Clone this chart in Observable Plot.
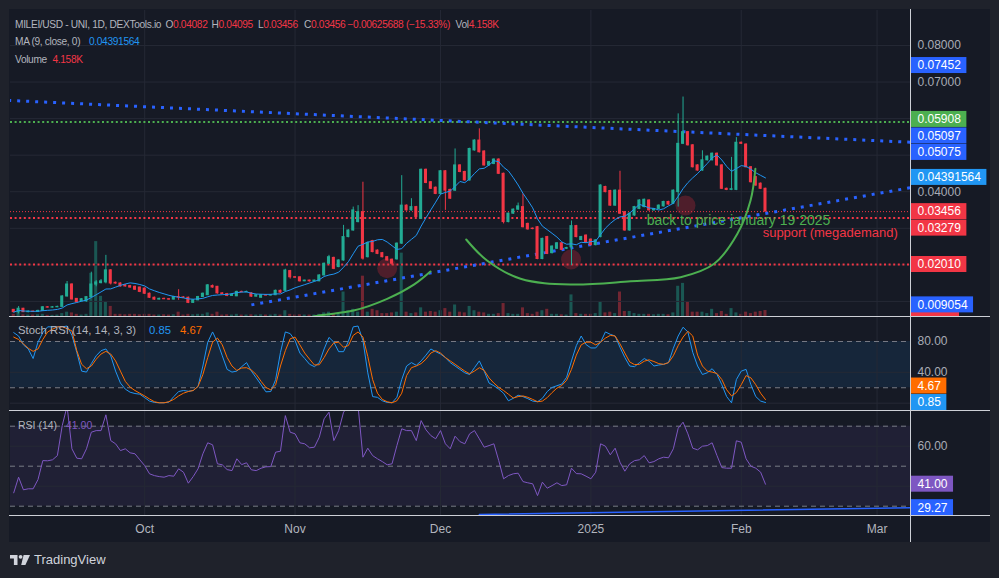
<!DOCTYPE html>
<html>
<head>
<meta charset="utf-8">
<script src="https://cdn.jsdelivr.net/npm/d3@7"></script>
<script src="https://cdn.jsdelivr.net/npm/@observablehq/plot@0.6"></script>
<style>
  html, body { margin: 0; padding: 0; background: #1f222b; }
  #root { position: relative; width: 999px; height: 578px; overflow: hidden; background: #1f222b; font-family: 'Liberation Sans', Arial, sans-serif; }
  #panel { position: absolute; left: 9px; top: 9px; width: 981px; height: 533px; background: #161a25; }
  .sep { position: absolute; background: #cdd0d6; }
  .lg { position: absolute; white-space: nowrap; color: #b2b5be; line-height: 1.2; font-size: 10.2px; letter-spacing: -0.35px; }
  #root svg { position: absolute; left: 0; }
</style>
</head>
<body>
<div id="root"><div id="panel"></div></div>
<script>
// ---------------- DATA ----------------
const startDay = "2024-09-04"; // first daily candle
const open = [
.0077,.00706,.0080,.00706,.0072,.0071,.0074,.0084,.0083,.0084,
.0085,.01135,.01463,.0107,.0100,.0100,.01117,.0146,.0150,.0152,
.0185,.0151,.0149,.0144,.0142,.0140,.0138,.0135,.0121,.0110,
.0105,.0107,.0106,.0105,.0112,.0111,.0110,.0096,.0103,.0112,
.0117,.0142,.0140,.0122,.0120,.0115,.0114,.0126,.0125,.0122,
.0113,.0110,.0117,.0116,.0117,.0129,.0129,.0183,.0166,.0166,
.0155,.0157,.0155,.0155,.0171,.0203,.0219,.0194,.0212,.0276,
.0294,.0317,.0344,.0221,.0265,.0239,.0232,.0221,.0214,.0215,
.0258,.0362,.0349,.0358,.0326,.0460,.0426,.0411,.0394,.0456,
.0405,.0403,.0472,.0454,.0431,.0513,.0540,.0510,.0472,.0476,
.0488,.0449,.0317,.0340,.0351,.0358,.0312,.0299,.0303,.0216,
.0276,.0232,.0244,.0259,.0244,.0248,.0306,.0268,.0280,.0269,
.0254,.0276,.0413,.0402,.0362,.0403,.0344,.0294,.0335,.0353,
.0358,.0376,.0349,.0353,.0360,.0372,.0367,.0399,.0531,.0563,
.0527,.0472,.0458,.0486,.0486,.0504,.0472,.0408,.0405,.0405,
.0534,.0529,.0467,.0440,.0422,.04082];
const high = [
.0078,.0086,.0081,.0074,.0074,.0076,.0086,.0086,.0086,.0087,
.0116,.01545,.0148,.0108,.0108,.0113,.0180,.0157,.0160,.0226,
.0187,.0153,.0151,.0146,.0144,.0142,.0139,.0137,.0123,.0112,
.0109,.0109,.0108,.0114,.0132,.0113,.0112,.0105,.0114,.0123,
.0146,.0145,.0141,.0124,.0122,.0120,.0128,.0128,.0128,.0124,
.0119,.0119,.0119,.0119,.0131,.0131,.0188,.0185,.0168,.0167,
.0158,.0158,.0158,.0173,.0205,.0226,.0221,.0214,.0308,.0296,
.0358,.0362,.0426,.0262,.0267,.0241,.0234,.0223,.0216,.0260,
.0444,.0364,.0381,.0360,.0462,.0462,.0428,.0413,.0458,.0458,
.0407,.0517,.0474,.0456,.0519,.0542,.0572,.0512,.0483,.0490,
.0490,.0451,.0342,.0353,.0369,.0394,.0314,.0301,.0305,.0273,
.0278,.0252,.0261,.0261,.0248,.0320,.0308,.0278,.0282,.0271,
.0269,.0419,.0415,.0404,.0405,.0456,.0346,.0342,.0360,.0378,
.0380,.0378,.0354,.0364,.0374,.0374,.0405,.0613,.0659,.0565,
.0529,.0474,.0512,.0498,.0506,.0506,.0474,.0410,.0494,.0548,
.0536,.0531,.0469,.0442,.0424,.04095];
const low = [
.0070,.0066,.0070,.0069,.0070,.0070,.0073,.0082,.0082,.0083,
.0084,.0112,.0104,.0096,.0099,.0098,.0110,.0140,.0148,.0148,
.0145,.0147,.0139,.0139,.0136,.0130,.0124,.0119,.0108,.0103,
.0104,.0105,.0103,.0104,.0103,.0108,.0094,.0095,.0102,.0111,
.0116,.0136,.0120,.0119,.0113,.0114,.0113,.0124,.0124,.0111,
.0112,.0109,.0115,.0115,.0116,.0122,.0127,.0161,.0163,.0153,
.0154,.0153,.0154,.0154,.0170,.0201,.0187,.0192,.0210,.0274,
.0292,.0315,.0213,.0219,.0233,.0228,.0219,.0210,.0198,.0213,
.0256,.0347,.0347,.0329,.0324,.0422,.0406,.0392,.0392,.0349,
.0379,.0401,.0452,.0429,.0429,.0511,.0506,.0470,.0470,.0474,
.0447,.0312,.0315,.0338,.0349,.0301,.0295,.0296,.0214,.0214,
.0228,.0230,.0242,.0239,.0242,.0198,.0274,.0266,.0260,.0252,
.0252,.0274,.0397,.0360,.0360,.0338,.0292,.0292,.0333,.0351,
.0356,.0347,.0347,.0351,.0358,.0363,.0365,.0358,.0529,.0525,
.0465,.0456,.0456,.0484,.0484,.0470,.0406,.0403,.0403,.0403,
.0529,.0465,.0424,.0415,.0406,.03456];
const close = [
.00706,.0080,.00706,.0072,.0071,.0074,.0084,.0083,.0084,.0085,
.01135,.01463,.01053,.0098,.0106,.01117,.01463,.0152,.0155,.0185,
.0149,.0149,.0141,.0141,.0138,.0132,.0126,.0121,.0110,.0105,
.0107,.0106,.0105,.0112,.0111,.0110,.0096,.0103,.0112,.0121,
.0144,.0138,.0122,.0120,.0115,.0118,.0126,.0125,.0126,.0113,
.0117,.0117,.0116,.0117,.0129,.0124,.01846,.0166,.0165,.0155,
.0157,.0155,.0157,.0171,.0203,.0221,.0189,.0212,.0276,.0294,
.0349,.0344,.0217,.0260,.0235,.0230,.0221,.0212,.0203,.0258,
.0362,.0349,.0358,.0331,.0460,.0424,.0408,.0394,.0456,.0403,
.0381,.0472,.0454,.0431,.0517,.0540,.0508,.0472,.0481,.0488,
.0449,.0317,.0340,.0351,.0360,.0303,.0297,.0298,.0216,.0271,
.0230,.0250,.0259,.0241,.0246,.0306,.0276,.0276,.0262,.0254,
.0267,.0417,.0399,.0362,.0403,.0340,.0294,.0340,.0358,.0376,
.0378,.0349,.0352,.0362,.0372,.0365,.0403,.0531,.0563,.0527,
.0467,.0458,.0486,.0496,.0504,.0472,.0408,.0405,.0407,.0534,
.0531,.0467,.0426,.0417,.0408,.03456];
// volume in thousands
const volume = [
1.5,3.5,1.2,1,1,1.2,1.5,0.8,0.8,1,
2,3,2.5,1.5,1,1.5,30,52,14,10,
7,1.5,1.5,1.2,1.5,1.5,1.2,1.5,1.5,1,
1,1.2,1,1.2,3,1,1.5,1.2,1.5,1.5,
2.5,1.5,3,1,1.2,1,1.5,1,1,1.2,
1,1.2,1,1,1.5,1,4,1.5,1,1.2,
1,1,1,1.5,2.5,3,2,1.5,17,4,
5,3,28,3,5,4,2,2,2.5,3,
44,3,2,2.5,6,3,3.5,3,4,5.5,
3,8,3,2.5,7,4,3,2.5,1.5,1.5,
2,9,2,1.5,1.5,6,2,1.5,3,4,
5,1.5,1.5,1.2,1,15,2,1.5,1.5,1.5,
2,10,2.5,3,2,17,3.5,3.5,2,1.5,
1.5,1.5,1.2,1.5,1.5,1.2,2.5,21,23,10,
3,3,3,2,5,2,3.5,1.5,5.5,2.5,
1.5,3,2,3,3.5,4.158];
const stochK = [
91.5,87.1,75.6,70.3,57.9,79.1,91.5,99,99,99,
99,100,87.9,66,41.6,40.3,51.3,61.5,68.1,70.3,
61.5,41.6,26.1,18.2,14.2,12.5,11.6,7.2,2.7,1.0,
0.5,0.5,1.4,8.5,15.1,16.4,15.5,16.4,21.7,48.2,
79.1,92.4,79.1,61.5,43.8,40.3,41.6,47.3,52.6,41.6,
32.8,23.9,14.7,15.1,30.6,65.9,92.4,90.2,81.3,65,
57.9,50.4,47.3,52.6,70.3,85.3,79.1,66.8,66.8,80,
99,100,81.3,39.4,8.5,7.6,3.1,1.0,0.5,7.6,
30.6,48.2,52.6,49.1,54.8,62.3,70.3,66.8,63.7,59.2,
52.6,48.2,43.8,39.4,37.2,46.0,54.8,41.6,26.1,22.6,
18.2,12.9,3.1,6.3,10.3,8.5,5.8,2.7,1.9,6.3,
15.1,20.4,22.6,24.8,33.6,54.8,74.7,87.1,76,71.6,
71.6,79.1,92.4,89.3,87.1,72.5,59.2,48.2,47.3,52.6,
57.9,54.4,48.2,49.5,50.4,52.6,71.2,87.1,98.5,92.4,
65.9,48.2,37.2,39.4,44.7,37.2,23.9,8.5,0.5,30.6,
41.6,43.8,23.9,8.5,2.7,0.85];
const stochD = [
85.7,82.6,76.9,71.2,67.2,70.3,82.6,92.4,95.9,99,
99,96.8,93.7,68.1,50.4,44.7,48.2,57,63.7,67.2,
63.7,54.8,41.6,28.3,20.8,16.4,12.9,9.4,5.4,1.9,
0.5,0.5,1.9,4.9,9.4,12.9,15.1,16.4,21.7,37.2,
59.2,79.1,84.4,75.6,59.2,48.2,42.5,45.6,46.0,42.9,
37.2,28.3,20.4,17.3,23.9,48.2,68.1,83.5,85.7,75.6,
65,57,49.5,49.9,59.2,70.3,78.2,79.1,72.5,74.7,
87.9,92.4,85.7,60.6,30.6,12.9,4.9,1.9,0.5,3.1,
12.9,35.8,46,48.2,51.3,57,65,68.1,65,59.2,
54.8,50.4,46,41.6,38.1,41.6,46,42.5,32.8,26.1,
20.4,16.4,11.6,6.7,8.5,9.4,7.6,4.9,1.9,2.7,
7.2,13.8,19.5,23.0,29.7,43.8,62.3,75.6,79.1,79.1,
75.6,79.1,84.4,87.9,87.1,76.9,65,53.5,50,50.4,
54.4,56.2,54,51.3,50.4,52.6,61.5,74.7,85.7,93.2,
87.1,62.3,48.2,41.6,40.3,38.5,30.6,17.3,9.4,13.8,
23.9,35.8,32.8,23.9,12.9,4.67];
const rsi = [
36.7,44.5,38.2,38.7,38.7,43.3,52.8,52.7,53.2,55.3,
70.3,80,58.7,54,53.7,58.7,67,67.8,67.8,75.7,
62.8,61.2,57.8,58.7,56.7,56.2,53.2,50.3,46.2,45.3,
44.8,44.5,45.3,45,48.7,47,41.5,44.8,48.7,56.2,
61.7,60.7,51.2,50.7,48.3,47.8,53.7,50.8,51.7,48.2,
47.8,49,49.7,49.8,57,57.5,75.3,67,66.2,61.7,
61.2,59.2,59.5,64.5,73.7,77,62.8,67.8,77,80,
82,80,54.5,59,55.3,53.7,52.3,50.7,51.2,60.3,
68.7,67.8,67.8,62.8,72.8,68.2,65.3,63.7,67.8,61.2,
58.7,65,62.3,61.2,66.2,67.8,63.7,59.5,60.3,61.2,
52.8,43.7,45.3,46.2,46.5,42.3,41.7,41.2,35.3,42,
39,40.3,41.7,40.3,40.7,49,46.3,46.2,45,43.7,
47,61.2,60,55.7,59,52,47.5,51.2,52.8,53.2,
55.3,51.7,52.3,53.7,54.5,54.2,58.7,69,72,66.2,
59,58.2,60,60.3,61.7,55.3,49.3,49,49,62.7,
62,53.7,50,49,47,41];

const monthTicks = ["2024-10-01","2024-11-01","2024-12-01","2025-01-01","2025-02-01","2025-03-01"];
const monthLabels = ["Oct","Nov","Dec","2025","Feb","Mar"];
const priceTicks = [0.08, 0.07, 0.04];
const priceGrid = [0.01,0.02,0.03,0.04,0.05,0.06,0.07,0.08];
const stochTicks = [80, 40];
const stochGrid = [0, 40];
const stochBands = [20, 80];
const rsiTicks = [60];
const rsiGrid = [40, 60];
const rsiBands = [30, 50, 70];

const resistanceLevels = [0.05908];
const supportLevels = [0.03279, 0.02010];
const lastClose = [0.03456];

const trendStartDates = ["2024-09-01", "2024-10-23"];
const trendStartValues = [0.0651, 0.009054];
const trendEndDates = ["2025-03-10", "2025-03-10"];
const trendEndValues = [0.0534, 0.0416];

const arcADates = ["2024-11-01","2024-11-06T05:00Z","2024-11-13T02:00Z","2024-11-20","2024-11-25T12:00Z","2024-11-28T22:00Z"];
const arcAValues = [0.0048, 0.0062, 0.0075, 0.0107, 0.0146, 0.0182];
const arcBDates = ["2024-12-06T07:00Z","2024-12-10T14:00Z","2024-12-17T12:00Z","2024-12-27T19:00Z","2025-01-09T05:00Z","2025-01-19T12:00Z","2025-01-26T10:00Z","2025-01-31T05:00Z","2025-02-02T22:00Z","2025-02-03T22:00Z"];
const arcBValues = [0.02694, 0.02119, 0.01619, 0.01463, 0.0155, 0.01663, 0.02029, 0.0285, 0.0376, 0.04627];

const markerDates = ["2024-11-20", "2024-12-27T22:00Z", "2025-01-20T12:00Z"];
const markerValues = [0.01909, 0.02147, 0.03624];

const noteTexts = ["back to price january 19 2025", "support (megademand)"];
const noteDates = ["2025-01-12T12:00Z", "2025-02-05T10:00Z"];
const noteValues = [0.03213, 0.02866];

const rsiTrendDates = ["2024-12-09", "2025-03-10"];
const rsiTrendValues = [25.85, 29.35];

// axis value labels (listed in the order the axis stacks them)
const priceLabelValues = [0.07452, 0.05075, 0.05097, 0.05908, 0.04391564, 0.03456, 0.03279, 0.02010, 0.009054];
const priceLabelTexts = ["0.07452","0.05075","0.05097","0.05908","0.04391564","0.03456","0.03279","0.02010","0.009054"];
const priceLabelKinds = ["trend","trend","trend","level","ma","close","support","support","trend"];
const stochLabelValues = [0.85, 4.67];
const stochLabelTexts = ["0.85", "4.67"];
const stochLabelKinds = ["k", "d"];
const rsiLabelValues = [41.00, 29.27];
const rsiLabelTexts = ["41.00", "29.27"];
const rsiLabelKinds = ["rsi", "trend"];
const volumeLabelValues = [4.158];
const volumeLabelKinds = ["close"];

// ---------------- STYLE / LAYOUT ----------------
const UP = "#22ab94", DOWN = "#f23645";
const kindColor = {trend: "#2962ff", level: "#4caf50", ma: "#2196f3", close: "#f23645", support: "#f23645",
                   k: "#2196f3", d: "#ff6d00", rsi: "#7e57c2"};
const GRID = "#252935";
const W = 999, ML = 10, MR = 89, FW = W - ML - MR;
const FONT = "'Liberation Sans', Arial, sans-serif";
const xDomain = [new Date("2024-09-03T08:00Z"), new Date("2025-03-07T21:36Z")];
const priceDomain = [0.005876, 0.08957];
const volumeDomain = [0, 212.5];
const stochDomain = [-9.5, 112.4];
const rsiDomain = [25.35, 77.85];

const DAY = 864e5;
const t0 = Date.parse(startDay);
const candles = close.map((c, i) => ({
  date: new Date(t0 + i * DAY), open: open[i], high: high[i], low: low[i], close: c,
  volume: volume[i], k: stochK[i], d: stochD[i], rsi: rsi[i],
  color: c >= open[i] ? UP : DOWN
}));
const months = monthTicks.map((d, i) => ({date: new Date(d), label: monthLabels[i]}));
const trends = trendStartDates.map((d, i) => ({x1: new Date(d), y1: trendStartValues[i], x2: new Date(trendEndDates[i]), y2: trendEndValues[i]}));
const arcA = arcADates.map((d, i) => ({date: new Date(d), value: arcAValues[i]}));
const arcB = arcBDates.map((d, i) => ({date: new Date(d), value: arcBValues[i]}));
const markers = markerDates.map((d, i) => ({date: new Date(d), value: markerValues[i]}));
const notes = noteTexts.map((t, i) => ({text: t, date: new Date(noteDates[i]), value: noteValues[i]}));
const rsiTrend = rsiTrendDates.map((d, i) => ({date: new Date(d), value: rsiTrendValues[i]}));

const ctx = document.createElement("canvas").getContext("2d");
ctx.font = "12px " + FONT;
function textW(s) { return ctx.measureText(s).width; }

// place axis value labels, pushing apart ones that would overlap
function placeLabels(values, texts, kinds, domain, h) {
  const s = d3.scaleLinear(domain, [h, 0]);
  const placed = [];
  values.forEach((v, i) => {
    let py = s(v);
    for (const p of placed) {
      if (Math.abs(py - p.py) < 16.5) py = py <= p.py ? p.py - 16.5 : p.py + 16.5;
    }
    placed.push({value: v, text: texts ? texts[i] : "", color: kindColor[kinds[i]], py, yd: s.invert(py)});
  });
  return placed;
}
function labelMarks(placed, withText = true) {
  return placed.flatMap(l => [
    Plot.rect([l], {y1: "yd", y2: "yd", insetTop: -8, insetBottom: -8, insetLeft: FW,
                    insetRight: -(withText ? textW(l.text) + 13 : 49), fill: l.color}),
    ...(withText ? [Plot.text([l], {y: "yd", text: "text", frameAnchor: "right", dx: 7, textAnchor: "start",
                    fill: "#ffffff", fontSize: 12})] : [])
  ]);
}
function tickMarks(ticks, fmt) {
  return Plot.text(ticks, {y: d => d, text: d => d3.format(fmt)(d), frameAnchor: "right", dx: 7,
                           textAnchor: "start", fill: "#a9acb5", fontSize: 12});
}
function pane(height, yDomain, marks) {
  const svg = Plot.plot({
    width: W, height, marginLeft: ML, marginRight: MR, marginTop: 0, marginBottom: 0,
    x: {type: "utc", domain: xDomain, axis: null},
    y: {domain: yDomain, axis: null},
    style: {background: "transparent", fontFamily: FONT, fontSize: "12px", color: "#b2b5be"},
    marks
  });
  svg.style.overflow = "hidden";
  svg.style.maxWidth = "none";
  return svg;
}
const root = document.getElementById("root");
function put(svg, top) { svg.style.top = top + "px"; root.appendChild(svg); }

const bodyX1 = d => new Date(+d.date - DAY / 2);
const bodyX2 = d => new Date(+d.date + DAY / 2);

// ---------------- VOLUME (overlay on price pane) ----------------
put(pane(306, volumeDomain, [
  Plot.rect(candles, {x1: bodyX1, x2: bodyX2, y1: 0, y2: "volume", fill: "color", fillOpacity: 0.42,
                      insetLeft: 0.9, insetRight: 0.9}),
  ...labelMarks(placeLabels(volumeLabelValues, null, volumeLabelKinds, volumeDomain, 306), false)
]), 10);

// ---------------- PRICE ----------------
put(pane(306, priceDomain, [
  Plot.ruleX(months, {x: "date", stroke: GRID}),
  Plot.ruleY(priceGrid, {stroke: GRID}),
  Plot.ruleY(resistanceLevels, {stroke: "#4caf50", strokeWidth: 2, strokeDasharray: "2,2.6"}),
  Plot.ruleY(supportLevels, {stroke: "#f23645", strokeWidth: 2, strokeDasharray: "2,2.6"}),
  Plot.ruleY(lastClose, {stroke: "#f23645", strokeWidth: 1, strokeDasharray: "1,2"}),
  Plot.link(trends, {x1: "x1", y1: "y1", x2: "x2", y2: "y2", stroke: "#2962ff", strokeWidth: 3,
                     strokeDasharray: "3,6", clip: true}),
  Plot.dot(markers, {x: "date", y: "value", r: 10, fill: "#c62838", fillOpacity: 0.32, stroke: "none"}),
  Plot.ruleX(candles, {x: "date", y1: "low", y2: "high", stroke: "color", strokeWidth: 1}),
  Plot.rect(candles, {x1: bodyX1, x2: bodyX2, y1: "open", y2: "close", fill: "color",
                      insetLeft: 0.9, insetRight: 0.9, insetTop: -0.5, insetBottom: -0.5}),
  Plot.lineY(candles, Plot.windowY({k: 9, anchor: "end"}, {x: "date", y: "close", stroke: "#2196f3", strokeWidth: 1})),
  Plot.line(arcA, {x: "date", y: "value", curve: "catmull-rom", stroke: "#4caf50", strokeWidth: 2, clip: true}),
  Plot.line(arcB, {x: "date", y: "value", curve: "catmull-rom", stroke: "#4caf50", strokeWidth: 2, clip: true}),
  Plot.text(notes.slice(0, 1), {x: "date", y: "value", text: "text", textAnchor: "start", fill: "#4caf50", fontSize: 14}),
  Plot.text(notes.slice(1), {x: "date", y: "value", text: "text", textAnchor: "start", fill: "#f23645", fontSize: 13}),
  tickMarks(priceTicks, ".5f"),
  ...labelMarks(placeLabels(priceLabelValues, priceLabelTexts, priceLabelKinds, priceDomain, 306))
]), 10);

// ---------------- STOCH RSI ----------------
put(pane(94, stochDomain, [
  Plot.rect([stochBands], {y1: d => d[0], y2: d => d[1], fill: "#2196f3", fillOpacity: 0.1}),
  Plot.ruleX(months, {x: "date", stroke: GRID}),
  Plot.ruleY(stochGrid, {stroke: GRID}),
  Plot.ruleY(stochBands, {stroke: "#787b86", strokeDasharray: "5,4"}),
  Plot.line(candles, {x: "date", y: "k", stroke: "#2196f3", strokeWidth: 1}),
  Plot.line(candles, {x: "date", y: "d", stroke: "#ff6d00", strokeWidth: 1}),
  tickMarks(stochTicks, ".2f"),
  ...labelMarks(placeLabels(stochLabelValues, stochLabelTexts, stochLabelKinds, stochDomain, 94))
]), 316);

// ---------------- RSI ----------------
put(pane(105, rsiDomain, [
  Plot.rect([[rsiBands[0], rsiBands[2]]], {y1: d => d[0], y2: d => d[1], fill: "#7e57c2", fillOpacity: 0.1}),
  Plot.ruleX(months, {x: "date", stroke: GRID}),
  Plot.ruleY(rsiGrid, {stroke: GRID}),
  Plot.ruleY(rsiBands, {stroke: "#787b86", strokeDasharray: "5,4"}),
  Plot.line(rsiTrend, {x: "date", y: "value", stroke: "#2962ff", strokeWidth: 1.5, clip: true}),
  Plot.line(candles, {x: "date", y: "rsi", stroke: "#7e57c2", strokeWidth: 1, clip: true}),
  tickMarks(rsiTicks, ".2f"),
  ...labelMarks(placeLabels(rsiLabelValues, rsiLabelTexts, rsiLabelKinds, rsiDomain, 105))
]), 410);

// ---------------- TIME AXIS ----------------
put(pane(27, [0, 1], [
  Plot.text(months, {x: "date", text: "label", frameAnchor: "middle", fill: "#b2b5be", fontSize: 12})
]), 515);

// ---------------- separators ----------------
function sep(l, t, w, h) { const d = document.createElement("div"); d.className = "sep";
  Object.assign(d.style, {left: l + "px", top: t + "px", width: w + "px", height: h + "px"}); root.appendChild(d); }
sep(9, 315.5, 981, 1); sep(9, 409.5, 981, 1); sep(9, 514.5, 981, 1); sep(909.5, 9, 1, 533);

// ---------------- legends ----------------
function lg(x, yc, html, color, size) { const d = document.createElement("div"); d.className = "lg";
  if (size) { d.style.fontSize = size + "px"; d.style.letterSpacing = "0"; }
  const fs = size || 10.2;
  d.style.left = x + "px"; d.style.top = (yc - fs * 0.62) + "px"; if (color) d.style.color = color; d.innerHTML = html; root.appendChild(d); }
const R = "#f23645";
const last = close.length - 1;
lg(15, 25, "MILEI/USD - UNI, 1D, DEXTools.io");
lg(165.5, 25, `O<span style="color:${R}">${open[last].toFixed(5)}</span>`);
lg(211.5, 25, `H<span style="color:${R}">${high[last].toFixed(5)}</span>`);
lg(258, 25, `L<span style="color:${R}">${low[last].toFixed(5)}</span>`);
lg(304, 25, `C<span style="color:${R}">${close[last].toFixed(5)}</span>`);
lg(347.5, 25, "\u22120.00625688 (\u221215.33%)", R);
lg(455.5, 25, `Vol<span style="color:${R}">4.158K</span>`);
lg(15, 42.7, "MA (9, close, 0)");
lg(89, 42.7, "0.04391564", "#2196f3");
lg(15, 60, "Volume");
lg(52.5, 60, "4.158K", R);
lg(18, 331.5, "Stoch RSI (14, 14, 3, 3)", null, 11.3);
lg(149, 331.5, stochK[last].toFixed(2), "#2196f3", 11.3);
lg(180, 331.5, stochD[last].toFixed(2), "#ff6d00", 11.3);
lg(18, 425.8, "RSI (14)", null, 10.5);
lg(66, 425.8, rsi[last].toFixed(2), "#7e57c2", 10.5);

// TradingView watermark
const tv = document.createElement("div");
tv.style.cssText = "position:absolute;left:10px;top:552px;display:flex;align-items:center;gap:4px;color:#d1d4dc;font-size:13px;";
tv.innerHTML = `<svg width="20" height="12" viewBox="0 0 20 12" style="position:static"><path d="M0 1h7.5v10h-3.6V4.6H0z" fill="#d1d4dc"/><circle cx="10.6" cy="2.8" r="1.9" fill="#d1d4dc"/><path d="M13.6 1H20l-4.6 10h-4.2z" fill="#d1d4dc"/></svg><span>TradingView</span>`;
root.appendChild(tv);
</script>
</body>
</html>
